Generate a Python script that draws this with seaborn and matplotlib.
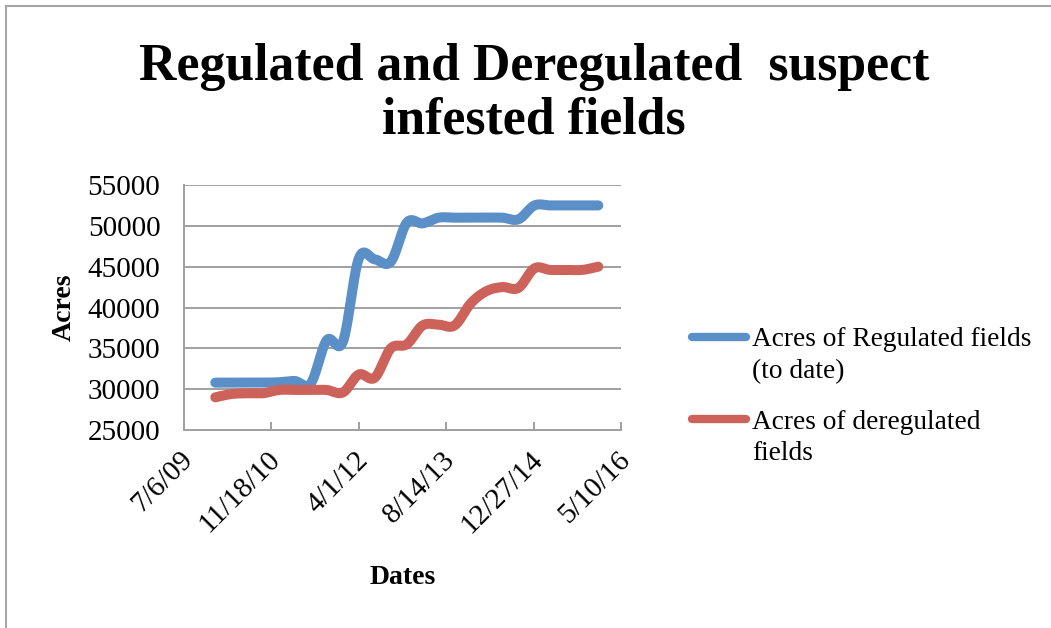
import numpy as np
import pandas as pd
import matplotlib
matplotlib.use("Agg")
import matplotlib.pyplot as plt
import matplotlib.dates as mdates
import matplotlib.transforms as mtransforms
from matplotlib.lines import Line2D
import seaborn as sns

# ---------------- data ----------------
dates = ["2010-01-01", "2010-04-01", "2010-07-01", "2010-10-01",
         "2011-01-01", "2011-04-01", "2011-07-01", "2011-10-01",
         "2012-01-01", "2012-04-01", "2012-07-01", "2012-10-01",
         "2013-01-01", "2013-04-01", "2013-07-01", "2013-10-01",
         "2014-01-01", "2014-04-01", "2014-07-01", "2014-10-01",
         "2015-01-01", "2015-04-01", "2015-07-01", "2015-10-01",
         "2016-01-01"]
regulated = [30800, 30800, 30800, 30800, 30850, 31000, 30700, 36000,
             35800, 46000, 45900, 45600, 50400, 50300, 51000, 51000,
             51000, 51000, 51000, 50800, 52500, 52500, 52500, 52500,
             52500]
deregulated = [29000, 29400, 29500, 29500, 29900, 29900, 29900, 29900,
               29600, 31800, 31400, 35000, 35500, 37800, 37900, 37800,
               40500, 42000, 42500, 42400, 44800, 44600, 44600, 44600,
               45000]
series_names = ["Acres of Regulated fields\n(to date)",
                "Acres of deregulated\nfields"]
tick_dates = ["2009-07-06", "2010-11-18", "2012-04-01",
              "2013-08-14", "2014-12-27", "2016-05-10"]
tick_labels = ["7/6/09", "11/18/10", "4/1/12", "8/14/13", "12/27/14", "5/10/16"]
y_ticks = [25000, 30000, 35000, 40000, 45000, 50000, 55000]
title = "Regulated and Deregulated  suspect\ninfested fields"
colors = ["#5B8FC7", "#CC625A"]


def smooth(x, y, n=24):
    """Catmull-Rom smoothing for display (like Excel's smoothed line)."""
    x = np.asarray(x, float)
    y = np.asarray(y, float)
    px = np.concatenate([[2 * x[0] - x[1]], x, [2 * x[-1] - x[-2]]])
    py = np.concatenate([[2 * y[0] - y[1]], y, [2 * y[-1] - y[-2]]])
    t = np.linspace(0, 1, n, endpoint=False)
    ox, oy = [], []
    for i in range(1, len(px) - 2):
        for arr, out in ((px, ox), (py, oy)):
            p0, p1, p2, p3 = arr[i - 1:i + 3]
            out.append(0.5 * (2 * p1 + (-p0 + p2) * t
                              + (2 * p0 - 5 * p1 + 4 * p2 - p3) * t ** 2
                              + (-p0 + 3 * p1 - 3 * p2 + p3) * t ** 3))
    ox.append([x[-1]])
    oy.append([y[-1]])
    return np.concatenate(ox), np.concatenate(oy)


xnum = mdates.date2num(pd.to_datetime(dates))
frames = []
for name, vals in zip(series_names, [regulated, deregulated]):
    sx, sy = smooth(xnum, vals)
    frames.append(pd.DataFrame({"x": sx, "y": sy, "series": name}))
df = pd.concat(frames, ignore_index=True)

# ---------------- figure ----------------
sns.set_theme(style="white")
plt.rcParams["font.family"] = ["Liberation Serif", "DejaVu Serif"]
plt.rcParams["text.color"] = "black"
plt.rcParams["axes.labelcolor"] = "black"
plt.rcParams["xtick.color"] = "black"
plt.rcParams["ytick.color"] = "black"

W, H = 1051, 628
fig = plt.figure(figsize=(W / 100, H / 100), dpi=100)
ax = fig.add_axes([184 / W, 1 - 430 / H, (621 - 184) / W, (430 - 185) / H])

sns.lineplot(data=df, x="x", y="y", hue="series", palette=colors,
             linewidth=7.2, sort=False, estimator=None, ax=ax,
             solid_capstyle="round", solid_joinstyle="round", legend=False)

tnum = mdates.date2num(pd.to_datetime(tick_dates))
ax.set_xlim(tnum[0], tnum[-1])
ax.set_ylim(25000, 55000)
ax.set_xticks(tnum)
ax.set_xticklabels(tick_labels, rotation=45, ha="right",
                   rotation_mode="anchor", fontsize=21, color="black")
ax.set_yticks(y_ticks)
ax.set_yticklabels([str(v) for v in y_ticks], fontsize=21, color="black")

grid_col = "#A0A0A0"
ax.yaxis.grid(True, color=grid_col, linewidth=1.4)
ax.xaxis.grid(False)
for side in ["top", "right"]:
    ax.spines[side].set_visible(False)
for side in ["left", "bottom"]:
    ax.spines[side].set_color(grid_col)
    ax.spines[side].set_linewidth(1.4)
ax.tick_params(axis="x", direction="in", length=6, width=1.4,
               color=grid_col, labelcolor="black", pad=12, bottom=True)
ax.tick_params(axis="y", length=0, pad=17, labelcolor="black")
shift = mtransforms.ScaledTranslation(-4 / 100, 0, fig.dpi_scale_trans)
for lab in ax.get_xticklabels():
    lab.set_transform(lab.get_transform() + shift)

ax.set_xlabel("Dates", fontsize=20, fontweight="bold", color="black")
ax.xaxis.set_label_coords(0.5, (430 - 578) / 245)
ax.xaxis.label.set_va("center")
ax.set_ylabel("Acres", fontsize=20, fontweight="bold", color="black")
ax.yaxis.set_label_coords((64 - 184) / 437, 0.5)
ax.yaxis.label.set_va("center")

fig.text(534 / W, 1 - 43 / H, title, ha="center", va="top", color="black",
         fontsize=37.3, fontweight="bold", linespacing=1.15)

handles = [Line2D([0], [0], color=c, linewidth=6, solid_capstyle="round")
           for c in colors]
leg = ax.legend(handles, series_names, loc="upper left",
                bbox_to_anchor=(692 / W, 1 - 327 / H),
                bbox_transform=fig.transFigure, frameon=False, fontsize=19.7,
                handlelength=1.98, handletextpad=0.22, labelspacing=0.95,
                borderpad=0, borderaxespad=0)
for t in leg.get_texts():
    t.set_linespacing(1.35)
    t.set_color("black")
# align each handle with the first line of its label (as in the original)
for col in leg._legend_handle_box.get_children():
    for row in col.get_children():
        row.align = "top"

border = "#A6A6A6"
fig.add_artist(Line2D([6 / W, 6 / W], [0, 1 - 6 / H], color=border,
                      linewidth=1.5, transform=fig.transFigure))
fig.add_artist(Line2D([6 / W, 1], [1 - 6 / H, 1 - 6 / H], color=border,
                      linewidth=1.5, transform=fig.transFigure))

fig.savefig("out.png", dpi=100)
